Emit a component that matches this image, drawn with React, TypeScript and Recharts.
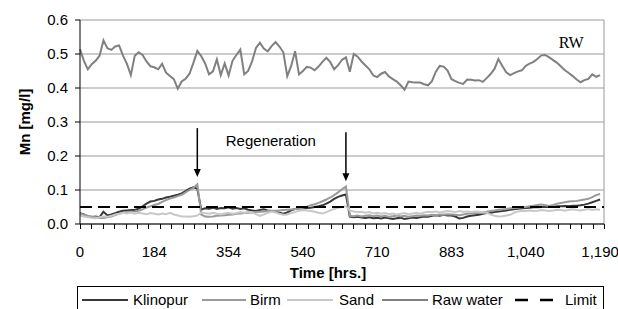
import { LineChart, Line, XAxis, YAxis, CartesianGrid, ReferenceLine, ReferenceDot } from 'recharts';

// x positions are sample indices; labels sit on every 19th sample
const TIME_LABELS = ['0', '184', '354', '540', '710', '883', '1,040', '1,190'];
const LABEL_IDX = [0, 19, 38, 57, 76, 95, 114, 133];
const LIMIT = 0.05;

const RAW = [
  0.514, 0.48, 0.455, 0.47, 0.48, 0.495, 0.54, 0.517, 0.512, 0.522,
  0.525, 0.495, 0.471, 0.438, 0.495, 0.505, 0.497, 0.478, 0.464, 0.461,
  0.455, 0.471, 0.445, 0.435, 0.426, 0.398, 0.419, 0.427, 0.442, 0.474,
  0.509, 0.494, 0.472, 0.44, 0.449, 0.484, 0.438, 0.472, 0.437, 0.48,
  0.497, 0.513, 0.44, 0.45, 0.478, 0.518, 0.533, 0.516, 0.508, 0.523,
  0.535, 0.522, 0.505, 0.435, 0.465, 0.508, 0.44, 0.45, 0.462, 0.46,
  0.452, 0.463, 0.477, 0.489, 0.476, 0.455, 0.467, 0.483, 0.49, 0.448,
  0.5, 0.492, 0.478, 0.466, 0.455, 0.437, 0.432, 0.442, 0.447, 0.434,
  0.426, 0.419, 0.408, 0.395, 0.419, 0.417, 0.416, 0.416, 0.411, 0.408,
  0.42, 0.448, 0.465, 0.463, 0.451, 0.426, 0.42, 0.415, 0.412, 0.425,
  0.424, 0.422, 0.423, 0.418, 0.429, 0.441, 0.456, 0.485, 0.465, 0.446,
  0.438, 0.444, 0.449, 0.452, 0.465, 0.472, 0.477, 0.486, 0.496, 0.497,
  0.49, 0.482, 0.474, 0.463, 0.452, 0.444, 0.435, 0.425, 0.417, 0.423,
  0.427, 0.44, 0.433, 0.438,
];

const KLINOPUR = [
  0.032, 0.028, 0.022, 0.02, 0.022, 0.02, 0.036, 0.025, 0.028, 0.032,
  0.036, 0.039, 0.04, 0.041, 0.041, 0.045, 0.052, 0.06, 0.066, 0.068,
  0.072, 0.074, 0.078, 0.08, 0.083, 0.086, 0.09, 0.097, 0.104, 0.108,
  0.104, 0.042, 0.046, 0.045, 0.048, 0.044, 0.047, 0.046, 0.049, 0.045,
  0.047, 0.044, 0.046, 0.042, 0.04, 0.038, 0.041, 0.043, 0.04, 0.038,
  0.036, 0.033, 0.03, 0.034, 0.04, 0.044, 0.046, 0.045, 0.047, 0.048,
  0.05, 0.052, 0.055, 0.06, 0.066, 0.074, 0.08, 0.084, 0.087, 0.022,
  0.02, 0.021, 0.019, 0.018, 0.02, 0.017, 0.018, 0.016, 0.019, 0.017,
  0.015, 0.017, 0.018, 0.015, 0.017, 0.019, 0.018, 0.02, 0.022, 0.021,
  0.024, 0.026, 0.024, 0.027, 0.025, 0.025, 0.022, 0.016, 0.018, 0.022,
  0.024, 0.026, 0.027, 0.03, 0.032, 0.033, 0.035, 0.037, 0.038, 0.04,
  0.042, 0.043, 0.045, 0.046, 0.047, 0.048, 0.049, 0.049, 0.05, 0.05,
  0.051, 0.05, 0.052, 0.052, 0.053, 0.052, 0.054, 0.054, 0.055, 0.057,
  0.06, 0.064, 0.068, 0.072,
];

const BIRM = [
  0.03, 0.027, 0.024, 0.022, 0.02, 0.018, 0.018, 0.02, 0.022, 0.026,
  0.03, 0.033, 0.035, 0.036, 0.037, 0.039, 0.043, 0.048, 0.052, 0.056,
  0.059, 0.065, 0.07, 0.075, 0.078, 0.082, 0.086, 0.093, 0.1, 0.106,
  0.117, 0.028, 0.022, 0.021, 0.022, 0.024, 0.025, 0.026, 0.027, 0.028,
  0.03, 0.031, 0.032, 0.033, 0.034, 0.035, 0.036, 0.037, 0.038, 0.039,
  0.039, 0.04, 0.041, 0.042, 0.043, 0.044, 0.045, 0.048, 0.051, 0.055,
  0.058, 0.062, 0.067, 0.072, 0.078, 0.085, 0.093, 0.102, 0.11, 0.024,
  0.023, 0.025, 0.022, 0.024, 0.026, 0.023, 0.025, 0.022, 0.024, 0.021,
  0.023, 0.025, 0.022, 0.024, 0.021, 0.023, 0.025, 0.024, 0.026, 0.025,
  0.027, 0.026, 0.028, 0.027, 0.029, 0.028, 0.027, 0.026, 0.028, 0.03,
  0.031, 0.032, 0.032, 0.034, 0.036, 0.038, 0.04, 0.042, 0.043, 0.044,
  0.046, 0.047, 0.048, 0.049, 0.05, 0.052, 0.054, 0.056, 0.057, 0.055,
  0.053, 0.056, 0.06, 0.062, 0.064, 0.066, 0.067, 0.068, 0.07, 0.072,
  0.074, 0.079, 0.085, 0.088,
];

const SAND = [
  0.025, 0.022, 0.02, 0.018, 0.017, 0.02, 0.022, 0.021, 0.024, 0.028,
  0.03, 0.033, 0.031, 0.034, 0.03, 0.033, 0.031, 0.029, 0.032, 0.03,
  0.028, 0.031, 0.029, 0.033, 0.028, 0.025, 0.022, 0.022, 0.021, 0.023,
  0.025, 0.034, 0.032, 0.03, 0.033, 0.03, 0.028, 0.031, 0.033, 0.03,
  0.032, 0.035, 0.033, 0.036, 0.034, 0.029, 0.024, 0.028, 0.033, 0.036,
  0.034, 0.03, 0.027, 0.028, 0.032, 0.035, 0.039, 0.041, 0.04, 0.038,
  0.036, 0.033, 0.031, 0.035, 0.04, 0.044, 0.048, 0.05, 0.052, 0.04,
  0.037, 0.035, 0.036, 0.033, 0.035, 0.031, 0.033, 0.03, 0.032, 0.029,
  0.031, 0.028, 0.03, 0.032, 0.029, 0.031, 0.033, 0.03, 0.034, 0.036,
  0.035, 0.037, 0.034, 0.036, 0.038, 0.037, 0.035, 0.038, 0.036, 0.037,
  0.035, 0.037, 0.036, 0.034, 0.033, 0.028, 0.024, 0.022, 0.023, 0.025,
  0.027, 0.033, 0.037, 0.039, 0.038, 0.04, 0.038, 0.039, 0.041, 0.04,
  0.038, 0.04, 0.042, 0.041, 0.039, 0.042, 0.043, 0.041, 0.04, 0.042,
  0.044, 0.041, 0.043, 0.042,
];

const SERIES = [
  { key: 'klinopur', name: 'Klinopur', color: '#383838' },
  { key: 'birm', name: 'Birm', color: '#9a9a9a' },
  { key: 'sand', name: 'Sand', color: '#c8c8c8' },
  { key: 'raw', name: 'Raw water', color: '#808080' },
];

const data = RAW.map((raw, i) => ({
  i,
  klinopur: KLINOPUR[i],
  birm: BIRM[i],
  sand: SAND[i],
  raw,
}));

const W = 618;
const H = 309;
const MARGIN = { top: 20, right: 14, left: 0, bottom: 55 };
const Y_AXIS_W = 80;
const X_AXIS_H = 30;
const X_MAX = 134;
const MINOR_TICK_COUNT = 46;

// plot box, derived from the chart margins
const PLOT_LEFT = MARGIN.left + Y_AXIS_W;
const PLOT_RIGHT = W - MARGIN.right;
const PLOT_BOTTOM = H - MARGIN.bottom - X_AXIS_H;

const FONT = '"Liberation Sans", Arial, sans-serif';

function XLabelTick({ x, y, payload }: any) {
  const idx = LABEL_IDX.indexOf(payload.value);
  return (
    <text x={x} y={y + 27} textAnchor="middle" dominantBaseline="central" fontSize={15} fontFamily={FONT} fill="#000">
      {idx >= 0 ? TIME_LABELS[idx] : ''}
    </text>
  );
}

function Arrow(props: any) {
  const { x1, y1, x2, y2 } = props;
  const top = Math.min(y1, y2);
  const tip = Math.max(y1, y2);
  return (
    <g>
      <line x1={x1} x2={x2} y1={top} y2={tip - 6} stroke="#000" strokeWidth={1.5} />
      <polygon points={`${x1 - 3.5},${tip - 8} ${x1 + 3.5},${tip - 8} ${x1},${tip}`} fill="#000" />
    </g>
  );
}

// small category tick marks under the time axis
function MinorTicks() {
  const step = (PLOT_RIGHT - PLOT_LEFT) / MINOR_TICK_COUNT;
  return (
    <svg width={W} height={H} style={{ position: 'absolute', left: 0, top: 0, pointerEvents: 'none', zIndex: 5 }}>
      {Array.from({ length: MINOR_TICK_COUNT + 1 }, (_, k) => {
        const x = Math.round(PLOT_LEFT + k * step) + 0.5;
        return <line key={k} x1={x} x2={x} y1={PLOT_BOTTOM} y2={PLOT_BOTTOM + 5} stroke="#000" strokeWidth={1} />;
      })}
    </svg>
  );
}

const LEGEND_SAMPLE_X = [82, 202, 287, 382, 515];
const LEGEND_SAMPLE_W = [46, 44, 46, 46, 38];
const LEGEND_TEXT_X = [133, 250, 339, 432, 565];

function LegendBox() {
  const items = [...SERIES.map((s) => ({ name: s.name, color: s.color, dash: undefined as string | undefined })), { name: 'Limit', color: '#000', dash: '13 12' }];
  return (
    <div
      style={{
        position: 'absolute',
        left: 77,
        top: 286,
        width: 527,
        height: 40,
        border: '1px solid #000',
        boxSizing: 'border-box',
        fontFamily: FONT,
        fontSize: 15,
        background: '#fff',
      }}
    >
      {items.map((it, k) => (
        <div key={it.name}>
          <svg
            width={LEGEND_SAMPLE_W[k]}
            height={6}
            style={{ position: 'absolute', left: LEGEND_SAMPLE_X[k] - 78, top: 10 }}
          >
            <line x1={0} x2={LEGEND_SAMPLE_W[k]} y1={3} y2={3} stroke={it.color} strokeWidth={it.dash ? 2.5 : 2} strokeDasharray={it.dash} />
          </svg>
          <span style={{ position: 'absolute', left: LEGEND_TEXT_X[k] - 78, top: 4, lineHeight: '18px', whiteSpace: 'nowrap' }}>
            {it.name}
          </span>
        </div>
      ))}
    </div>
  );
}

export default function App() {
  return (
    <div style={{ position: 'absolute', left: 0, top: 0, width: W, height: H, overflow: 'hidden', background: '#fff' }}>
      <LineChart width={W} height={H} data={data} margin={MARGIN}>
        <CartesianGrid vertical={false} stroke="#999" />
        <XAxis
          dataKey="i"
          type="number"
          domain={[0, X_MAX]}
          ticks={LABEL_IDX}
          interval={0}
          tick={(p: any) => <XLabelTick {...p} />}
          tickLine={false}
          tickSize={0}
          tickMargin={0}
          height={X_AXIS_H}
          stroke="#000"
          label={() => (
            <text x={328} y={272} textAnchor="middle" dominantBaseline="central" fontSize={15} fontWeight="bold" fontFamily={FONT} fill="#000">
              Time [hrs.]
            </text>
          )}
        />
        <YAxis
          domain={[0, 0.6]}
          ticks={[0, 0.1, 0.2, 0.3, 0.4, 0.5, 0.6]}
          tickFormatter={(v: number) => v.toFixed(1)}
          width={Y_AXIS_W}
          tickSize={5}
          tickMargin={7}
          stroke="#000"
          tick={{ fill: '#000', fontSize: 15, fontFamily: FONT }}
          label={() => (
            <text x={24} y={122} transform="rotate(-90 24 122)" textAnchor="middle" dominantBaseline="central" fontSize={15} fontWeight="bold" fontFamily={FONT} fill="#000">
              Mn [mg/l]
            </text>
          )}
        />
        <ReferenceLine x={X_MAX} stroke="#999" />
        {SERIES.map((s) => (
          <Line
            key={s.key}
            type="linear"
            dataKey={s.key}
            name={s.name}
            stroke={s.color}
            strokeWidth={2}
            dot={false}
            isAnimationActive={false}
          />
        ))}
        <ReferenceLine y={LIMIT} stroke="#000" strokeWidth={2} strokeDasharray="12 6" />
        <ReferenceLine segment={[{ x: 30, y: 0.282 }, { x: 30, y: 0.138 }]} shape={(p: any) => <Arrow {...p} />} />
        <ReferenceLine segment={[{ x: 68, y: 0.27 }, { x: 68, y: 0.126 }]} shape={(p: any) => <Arrow {...p} />} />
        <ReferenceDot
          x={48.8}
          y={0.244}
          r={0}
          fill="none"
          stroke="none"
          label={{ value: 'Regeneration', position: 'center', fontSize: 15, fontFamily: FONT, fill: '#000' }}
        />
        <ReferenceDot
          x={125.6}
          y={0.535}
          r={0}
          fill="none"
          stroke="none"
          label={{ value: 'RW', position: 'center', fontSize: 16, fontFamily: '"Liberation Serif", "Times New Roman", serif', fill: '#000' }}
        />
      </LineChart>
      <MinorTicks />
      <LegendBox />
    </div>
  );
}
